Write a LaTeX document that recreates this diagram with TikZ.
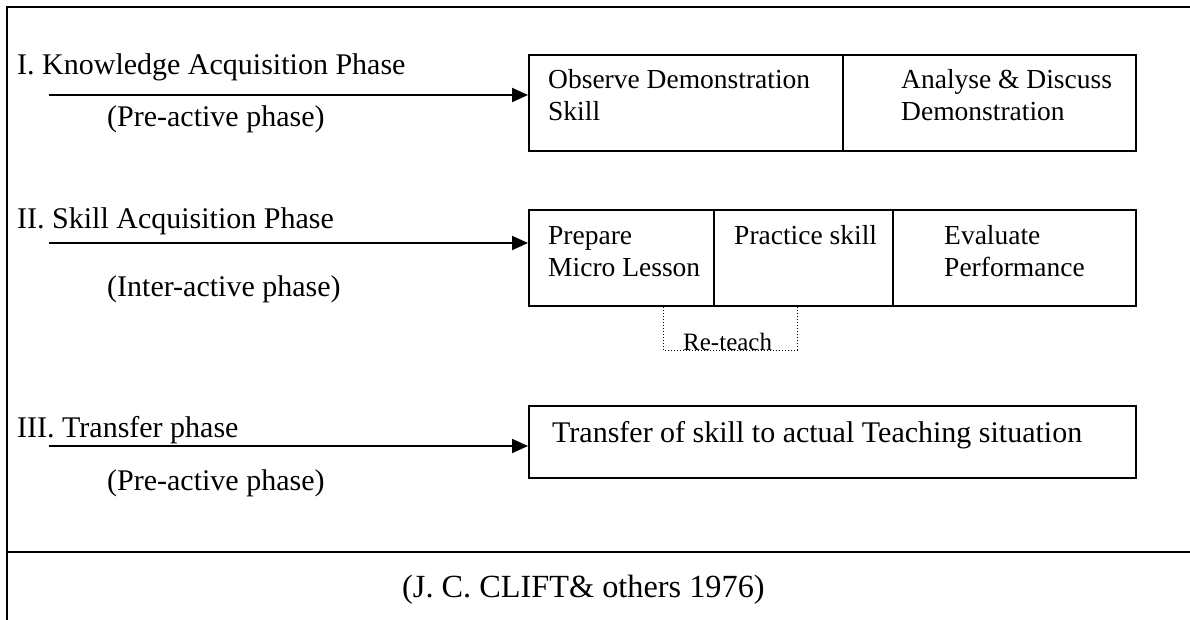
\documentclass[tikz,border=0pt]{standalone}
\usepackage{fontspec}
\setmainfont{Liberation Serif}
\usetikzlibrary{arrows.meta}
\begin{document}
\begin{tikzpicture}[x=1pt,y=-1pt,
  frame/.style={line width=2pt},
  cell/.style={draw,line width=2pt,rectangle,inner sep=0pt,anchor=north west},
  lbl/.style={anchor=base west,inner sep=0pt,font=\fontsize{30}{32}\selectfont},
  celltxt/.style={anchor=base west,inner sep=0pt,font=\fontsize{27.5}{32}\selectfont},
  arr/.style={line width=2pt,-{Triangle[length=16pt,width=14pt]}},
  reteach/.style={dotted,line width=1pt},
]
\useasboundingbox (0,0) rectangle (1190,620);
% frame
\draw[frame] (7,620) -- (7,7) -- (1190,7);
\draw[frame] (7,552) -- (1190,552);
% boxes
\node[cell,minimum width=314pt,minimum height=96pt] (c1a) at (528,54) {};
\node[cell,minimum width=293pt,minimum height=96pt] (c1b) at (842,54) {};
\node[cell,minimum width=185pt,minimum height=96pt] (c2a) at (528,209) {};
\node[cell,minimum width=179pt,minimum height=96pt] (c2b) at (713,209) {};
\node[cell,minimum width=243pt,minimum height=96pt] (c2c) at (892,209) {};
\node[cell,minimum width=607pt,minimum height=72pt] (c3) at (528,405) {};
% arrows
\coordinate (a1s) at (49,95);
\coordinate (a2s) at (49,243);
\coordinate (a3s) at (49,446);
\draw[arr] (a1s) -- (a1s -| c1a.west);
\draw[arr] (a2s) -- (a2s -| c2a.west);
\draw[arr] (a3s) -- (a3s -| c3.west);
% re-teach loop
\coordinate (rtL) at (663,350);
\coordinate (rtR) at (797,350);
\draw[reteach] (rtL |- c2a.south) -- (rtL) -- (rtR) -- (rtR |- c2b.south);
\node[anchor=base west,inner sep=0pt,font=\fontsize{25}{28}\selectfont] (rt) at (683,350) {Re-teach};
% labels
\node[lbl] (t1) at (17,75) {I. Knowledge Acquisition Phase};
\node[lbl] (t1b) at (107,127) {(Pre-active phase)};
\node[lbl] (t2) at (17,229) {II. Skill Acquisition Phase};
\node[lbl] (t2b) at (107,296) {(Inter-active phase)};
\node[lbl] (t3) at (17,437) {III. Transfer phase};
\node[lbl] (t3b) at (107,490) {(Pre-active phase)};
% cell texts
\node[celltxt] (x1a) at (548,89) {\begin{tabular}[t]{@{}l@{}}Observe Demonstration\\Skill\end{tabular}};
\node[celltxt] (x1b) at (901,89) {\begin{tabular}[t]{@{}l@{}}Analyse \& Discuss\\Demonstration\end{tabular}};
\node[celltxt] (x2a) at (548,244) {\begin{tabular}[t]{@{}l@{}}Prepare\\Micro Lesson\end{tabular}};
\node[celltxt] (x2b) at (734,244) {Practice skill};
\node[celltxt] (x2c) at (944,244) {\begin{tabular}[t]{@{}l@{}}Evaluate\\Performance\end{tabular}};
\node[lbl] (x3) at (552,442) {Transfer of skill to actual Teaching situation};
% source
\node[anchor=base west,inner sep=0pt,font=\fontsize{32.3}{34}\selectfont] (src) at (402,597) {(J. C. CLIFT\& others 1976)};
\end{tikzpicture}
\end{document}
